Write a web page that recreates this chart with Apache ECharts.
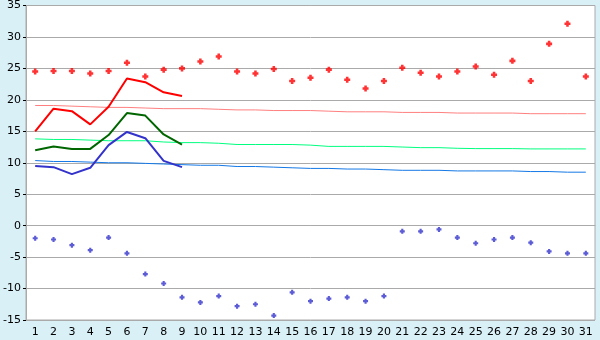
<!DOCTYPE html>
<html><head><meta charset="utf-8">
<script src="https://cdn.jsdelivr.net/npm/echarts@6/dist/echarts.min.js"></script>
<style>html,body{margin:0;padding:0;background:#DAF0F7;}#c{width:600px;height:340px;}</style>
</head><body><div id="c"></div>
<script>
var days = ['1','2','3','4','5','6','7','8','9','10','11','12','13','14','15','16','17','18','19','20','21','22','23','24','25','26','27','28','29','30','31'];
var highPts = [24.5,24.6,24.6,24.2,24.6,25.9,23.7,24.8,25.0,26.1,26.9,24.5,24.2,24.9,23.0,23.5,24.8,23.2,21.8,23.0,25.1,24.3,23.7,24.5,25.3,24.0,26.2,23.0,28.9,32.1,23.7];
var lowPts = [-2.0,-2.2,-3.1,-3.9,-1.9,-4.4,-7.7,-9.2,-11.4,-12.2,-11.2,-12.8,-12.5,-14.3,-10.6,-12.0,-11.6,-11.4,-12.0,-11.2,-0.9,-0.9,-0.6,-1.9,-2.8,-2.2,-1.9,-2.7,-4.1,-4.4,-4.4];
var maxLine = [15.0,18.6,18.2,16.1,18.9,23.4,22.8,21.2,20.6];
var meanLine = [12.0,12.6,12.2,12.2,14.4,17.9,17.5,14.5,12.9];
var minLine = [9.5,9.3,8.2,9.2,12.8,14.9,13.9,10.3,9.3];
var normalMax = [19.1,19.1,19.0,18.9,18.8,18.8,18.7,18.6,18.6,18.6,18.5,18.4,18.4,18.3,18.3,18.3,18.2,18.1,18.1,18.1,18.0,18.0,18.0,17.9,17.9,17.9,17.9,17.8,17.8,17.8,17.8];
var normalMean = [13.8,13.7,13.7,13.6,13.5,13.5,13.5,13.3,13.2,13.2,13.1,12.9,12.9,12.9,12.9,12.8,12.6,12.6,12.6,12.6,12.5,12.4,12.4,12.3,12.25,12.25,12.25,12.2,12.2,12.2,12.2];
var normalMin = [10.35,10.2,10.2,10.1,10.0,10.0,9.9,9.8,9.7,9.6,9.6,9.4,9.4,9.3,9.2,9.1,9.1,9.0,9.0,8.9,8.8,8.8,8.8,8.7,8.7,8.7,8.7,8.6,8.6,8.5,8.5];
var yTicks = {min:-15, max:35, interval:5};

var plus = 'path://M2,0H5V2H7V5H5V7H2V5H0V2H2Z';
var chart = echarts.init(document.getElementById('c'));
var font = 'DejaVu Sans';
function lineS(data, color, width){
  return {type:'line', data:data, symbol:'none', silent:true, animation:false,
    lineStyle:{color:color, width:width}, z:2};
}
chart.setOption({
  backgroundColor:'#DAF0F7',
  animation:false,
  grid:{left:26, right:5, top:5, bottom:20, show:true, backgroundColor:'#ffffff', borderColor:'#aaaaaa', borderWidth:1},
  xAxis:{type:'category', data:days, boundaryGap:true,
    axisLine:{lineStyle:{color:'#aaaaaa'}},
    axisTick:{alignWithLabel:true, length:5, lineStyle:{color:'#000000'}},
    axisLabel:{color:'#000', fontFamily:font, fontSize:11, margin:7, interval:0},
    splitLine:{show:false}},
  yAxis:{type:'value', min:yTicks.min, max:yTicks.max, interval:yTicks.interval,
    axisLine:{show:true, lineStyle:{color:'#aaaaaa'}},
    axisTick:{show:true, length:3, lineStyle:{color:'#000000'}},
    axisLabel:{color:'#000', fontFamily:font, fontSize:11, margin:5},
    splitLine:{lineStyle:{color:'#aaaaaa', width:1}}},
  series:[
    lineS(normalMax,'#FF7F7F',1),
    lineS(normalMean,'#00FF7F',1),
    lineS(normalMin,'#1478E6',1),
    lineS(maxLine,'#FF0000',2),
    lineS(meanLine,'#006600',2),
    lineS(minLine,'#3333CC',2),
    {type:'scatter', data:highPts, symbol:plus, symbolSize:6, itemStyle:{color:'#FF0000'}, z:3},
    {type:'scatter', data:lowPts, symbol:plus, symbolSize:5, itemStyle:{color:'#3333CC'}, z:3}
  ]
});
</script></body></html>
